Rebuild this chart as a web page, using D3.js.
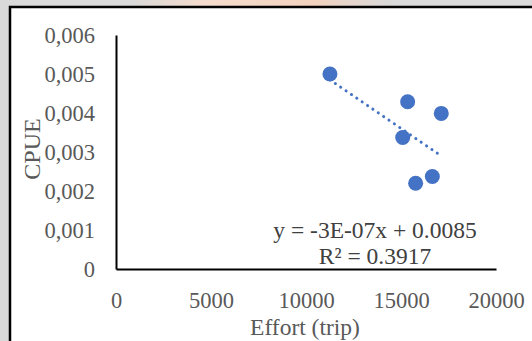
<!DOCTYPE html>
<html>
<head>
<meta charset="utf-8">
<script src="https://cdn.jsdelivr.net/npm/d3@7"></script>
<style>
  html, body { margin: 0; padding: 0; background: #d9d9d9; }
  svg { display: block; }
</style>
</head>
<body>
<div id="chart"></div>
<script>
// data
const effort = [11260, 15350, 17120, 15090, 16650, 15770];
const cpue = [0.0050, 0.00429, 0.00399, 0.00337, 0.00237, 0.00220];
const xTicks = [0, 5000, 10000, 15000, 20000];
const yTicks = [0, 0.001, 0.002, 0.003, 0.004, 0.005, 0.006];
const equationLines = ['y = -3E-07x + 0.0085', 'R² = 0.3917'];
const xTitle = 'Effort (trip)';
const yTitle = 'CPUE';

const W = 532, H = 341;
const margin = { top: 35, right: 36, bottom: 72, left: 116 };
const width = W - margin.left - margin.right;
const height = H - margin.top - margin.bottom;

const svg = d3.select('#chart').append('svg')
  .attr('width', W).attr('height', H);

// gray page + faint watermark + white chart box
svg.append('rect').attr('width', W).attr('height', H).attr('fill', '#d9d9d9');
const grad = svg.append('defs').append('linearGradient').attr('id', 'wm');
grad.append('stop').attr('offset', '0%').attr('stop-color', '#d9d9d9');
grad.append('stop').attr('offset', '30%').attr('stop-color', '#f6dccd');
grad.append('stop').attr('offset', '70%').attr('stop-color', '#f3d2bf');
grad.append('stop').attr('offset', '100%').attr('stop-color', '#d9d9d9');
svg.append('rect').attr('x', 130).attr('y', 0).attr('width', 260).attr('height', 8).attr('fill', 'url(#wm)');
svg.append('rect').attr('x', 10).attr('y', 7).attr('width', W).attr('height', H)
  .attr('fill', '#fff').attr('stroke', '#000').attr('stroke-width', 2.5);

const g = svg.append('g').attr('transform', `translate(${margin.left},${margin.top})`);

const x = d3.scaleLinear().domain([0, 20000]).range([0, width]);
const y = d3.scaleLinear().domain([0, 0.006]).range([height, 0]);

const font = '"Liberation Serif", "Times New Roman", serif';
const yFmt = d => d === 0 ? '0' : d3.format('.3f')(d).replace('.', ',');

const xAxis = g.append('g').attr('transform', `translate(0,${height})`)
  .call(d3.axisBottom(x).tickValues(xTicks).tickSize(0).tickPadding(23).tickFormat(d3.format('d')));
const yAxis = g.append('g')
  .call(d3.axisLeft(y).tickValues(yTicks).tickSize(0).tickPadding(21).tickFormat(yFmt));

[xAxis, yAxis].forEach(a => {
  a.select('.domain').attr('stroke', '#000').attr('stroke-width', 2);
  a.selectAll('text').attr('fill', '#595959').style('font-family', font).style('font-size', '22.5px');
});

// trend line (least squares over the points)
const mx = d3.mean(effort), my = d3.mean(cpue);
const slope = d3.sum(effort, (v, i) => (v - mx) * (cpue[i] - my)) / d3.sum(effort, v => (v - mx) ** 2);
const icpt = my - slope * mx;
const [x0, x1] = d3.extent(effort);
g.append('line')
  .attr('x1', x(x0)).attr('y1', y(slope * x0 + icpt))
  .attr('x2', x(x1)).attr('y2', y(slope * x1 + icpt))
  .attr('stroke', '#4472c4').attr('stroke-width', 3)
  .attr('stroke-linecap', 'round').attr('stroke-dasharray', '0.1 6.4');

g.selectAll('.pt').data(effort).enter().append('circle')
  .attr('class', 'pt')
  .attr('cx', d => x(d)).attr('cy', (d, i) => y(cpue[i]))
  .attr('r', 7.5).attr('fill', '#4472c4');

// equation label
g.append('text')
  .attr('x', 259).attr('y', 203)
  .attr('text-anchor', 'middle')
  .attr('fill', '#404040').style('font-family', font).style('font-size', '23.5px')
  .selectAll('tspan').data(equationLines).enter().append('tspan')
  .attr('x', 259).attr('dy', (d, i) => i === 0 ? 0 : 26)
  .text(d => d);

// axis titles
g.append('text')
  .attr('x', 189).attr('y', height + 66)
  .attr('text-anchor', 'middle')
  .attr('fill', '#595959').style('font-family', font).style('font-size', '23.5px')
  .text(xTitle);

g.append('text')
  .attr('transform', 'rotate(-90)')
  .attr('x', -114).attr('y', -76)
  .attr('text-anchor', 'middle')
  .attr('fill', '#595959').style('font-family', font).style('font-size', '24px')
  .text(yTitle);
</script>
</body>
</html>
